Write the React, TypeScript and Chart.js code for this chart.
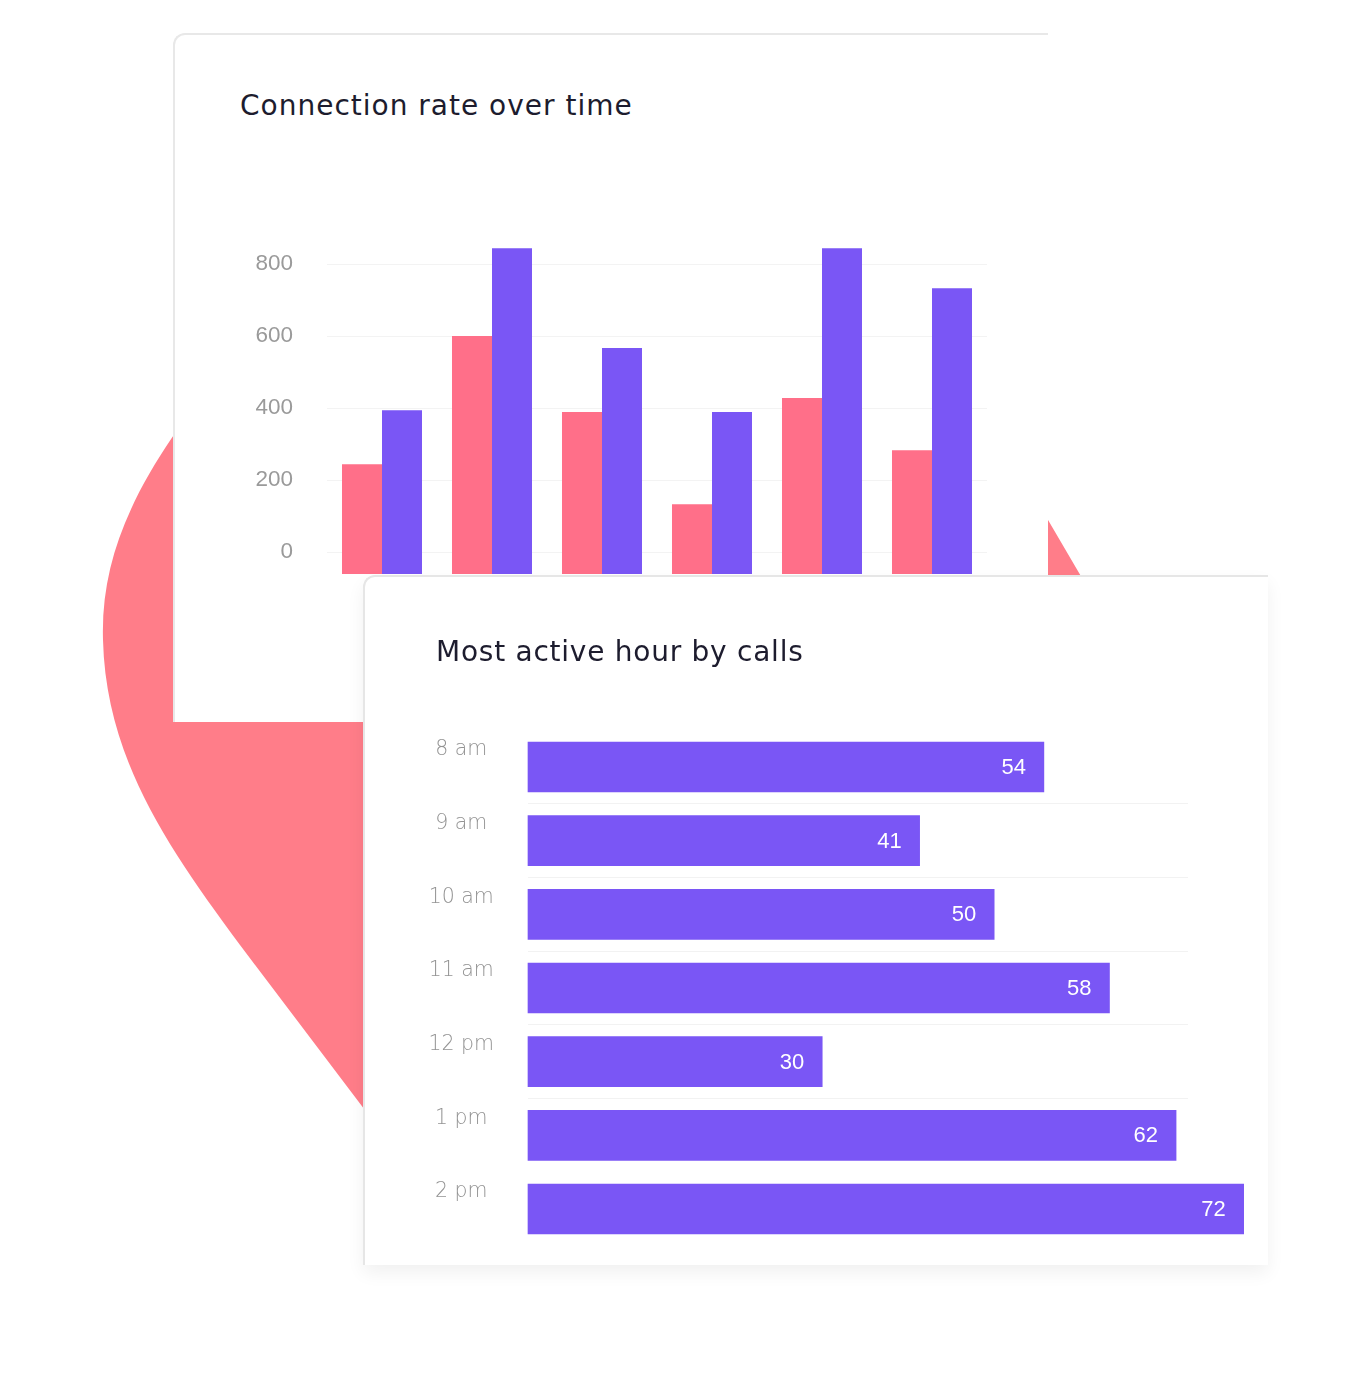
import React, { useEffect, useRef } from "react";
import { Chart, registerables } from "chart.js";

Chart.register(...registerables);

// ---------- Data: "Connection rate over time" ----------
const periods = ["Period 1", "Period 2", "Period 3", "Period 4", "Period 5", "Period 6"];
const connectionTicks = [0, 200, 400, 600, 800];
const pinkSeries = [244, 600, 389, 133, 428, 283];
const purpleSeries = [394, 844, 567, 389, 844, 733];

// ---------- Data: "Most active hour by calls" ----------
const hours = ["8 am", "9 am", "10 am", "11 am", "12 pm", "1 pm", "2 pm"];
const callCounts = [54, 41, 50, 58, 30, 62, 72]; // printed values
const drawnBarLengths = [51.9, 39.4, 46.9, 58.5, 29.6, 65.2, 72]; // bar lengths as drawn, same units

const PINK = "#FF6F89";
const PURPLE = "#7A56F5";
const BLOB = "#FF7D89";
const TITLE_FONT = "'DejaVu Sans', 'Open Sans', sans-serif";

const valueLabelPlugin = {
  id: "valueLabels",
  afterDatasetsDraw(chart: any) {
    const meta = chart.getDatasetMeta(0);
    const ctx = chart.ctx;
    ctx.save();
    ctx.fillStyle = "#ffffff";
    ctx.font = "22px 'Liberation Sans', Arial, sans-serif";
    ctx.textAlign = "right";
    ctx.textBaseline = "middle";
    meta.data.forEach((bar: any, i: number) => {
      ctx.fillText(String(callCounts[i]), bar.x - 18, bar.y + 1);
    });
    ctx.restore();
  },
};

function ConnectionChart() {
  const ref = useRef<HTMLCanvasElement | null>(null);
  useEffect(() => {
    if (!ref.current) return;
    const chart = new Chart(ref.current, {
      type: "bar",
      data: {
        labels: periods,
        datasets: [
          { data: pinkSeries, backgroundColor: PINK, base: -61, barPercentage: 1, categoryPercentage: 0.7273 } as any,
          { data: purpleSeries, backgroundColor: PURPLE, base: -61, barPercentage: 1, categoryPercentage: 0.7273 } as any,
        ],
      },
      options: {
        responsive: false,
        animation: false,
        layout: { padding: { left: 0, right: 33, top: 42.44, bottom: 26 } },
        plugins: { legend: { display: false }, tooltip: { enabled: false } },
        scales: {
          x: { display: false, offset: true },
          y: {
            min: -61,
            max: 860,
            afterBuildTicks: (s: any) => {
              s.ticks = connectionTicks.map((v) => ({ value: v }));
            },
            afterFit: (s: any) => {
              s.width = 127;
            },
            border: { display: false },
            grid: {
              color: "#f3f3f3",
              drawTicks: true,
              tickLength: 34,
              tickColor: "rgba(0,0,0,0)",
              lineWidth: 1,
            },
            ticks: {
              padding: 0,
              color: "#9a9a9a",
              font: { family: "'Liberation Sans', Arial, sans-serif", size: 22.5 },
            },
          },
        },
      } as any,
    });
    return () => chart.destroy();
  }, []);
  return (
    <canvas
      ref={ref}
      width={820}
      height={400}
      style={{ position: "absolute", left: 200, top: 200, width: 820, height: 400, zIndex: 2 }}
    />
  );
}

function HoursChart() {
  const ref = useRef<HTMLCanvasElement | null>(null);
  useEffect(() => {
    if (!ref.current) return;
    const chart = new Chart(ref.current, {
      type: "bar",
      data: {
        labels: hours,
        datasets: [
          { data: drawnBarLengths, backgroundColor: PURPLE, barThickness: 50, clip: false } as any,
        ],
      },
      options: {
        indexAxis: "y",
        responsive: false,
        animation: false,
        layout: { padding: { left: 0, right: 72, top: 30.2, bottom: 14.2 } },
        plugins: { legend: { display: false }, tooltip: { enabled: false } },
        scales: {
          x: { display: false, min: 0, max: 66.4 },
          y: {
            offset: true,
            afterFit: (s: any) => {
              s.width = 148;
            },
            border: { display: false },
            grid: {
              offset: true,
              drawTicks: true,
              tickLength: 34,
              tickColor: "rgba(0,0,0,0)",
              lineWidth: 1,
              color: (c: any) => (c.index >= 1 && c.index <= 5 ? "#f2f2f2" : "rgba(0,0,0,0)"),
            },
            ticks: {
              padding: 0,
              crossAlign: "center",
              labelOffset: -17,
              color: "#939393",
              font: { family: TITLE_FONT, size: 20.5, weight: "200" },
            },
          },
        },
      } as any,
      plugins: [valueLabelPlugin],
    });
    return () => chart.destroy();
  }, []);
  return (
    <canvas
      ref={ref}
      width={880}
      height={560}
      style={{ position: "absolute", left: 380, top: 700, width: 880, height: 560, zIndex: 4 }}
    />
  );
}

export default function App() {
  const titleStyle: React.CSSProperties = {
    position: "absolute",
    fontFamily: TITLE_FONT,
    fontSize: 28,
    lineHeight: "28px",
    color: "#1d1c2e",
    whiteSpace: "nowrap",
    letterSpacing: 1,
  };
  return (
    <div
      style={{
        position: "absolute",
        left: 0,
        top: 0,
        width: 1368,
        height: 1390,
        overflow: "hidden",
        background: "#ffffff",
      }}
    >
      <svg
        width={1368}
        height={1390}
        style={{ position: "absolute", left: 0, top: 0, zIndex: 0 }}
      >
        <path
          d="M 230 360 C 150 460 100 540 103 640 C 106 760 170 850 240 945 L 380 1130 L 1130 660 L 1010 455 Z"
          fill={BLOB}
        />
      </svg>

      <div
        style={{
          position: "absolute",
          left: 173,
          top: 33,
          width: 875,
          height: 689,
          boxSizing: "border-box",
          background: "#ffffff",
          borderTop: "2px solid #e8e8e8",
          borderLeft: "2px solid #e8e8e8",
          borderTopLeftRadius: 12,
          zIndex: 1,
        }}
      />
      <div style={{ ...titleStyle, left: 240, top: 92, zIndex: 2 }}>Connection rate over time</div>
      <ConnectionChart />

      <div
        style={{
          position: "absolute",
          left: 363,
          top: 575,
          width: 905,
          height: 690,
          boxSizing: "border-box",
          background: "#ffffff",
          borderTop: "2px solid #e6e6e6",
          borderLeft: "2px solid #e6e6e6",
          borderTopLeftRadius: 12,
          boxShadow: "0 8px 18px rgba(0,0,0,0.06)",
          zIndex: 3,
        }}
      />
      <div style={{ ...titleStyle, left: 436, top: 638, zIndex: 4, letterSpacing: 0.75 }}>
        Most active hour by calls
      </div>
      <HoursChart />
    </div>
  );
}
